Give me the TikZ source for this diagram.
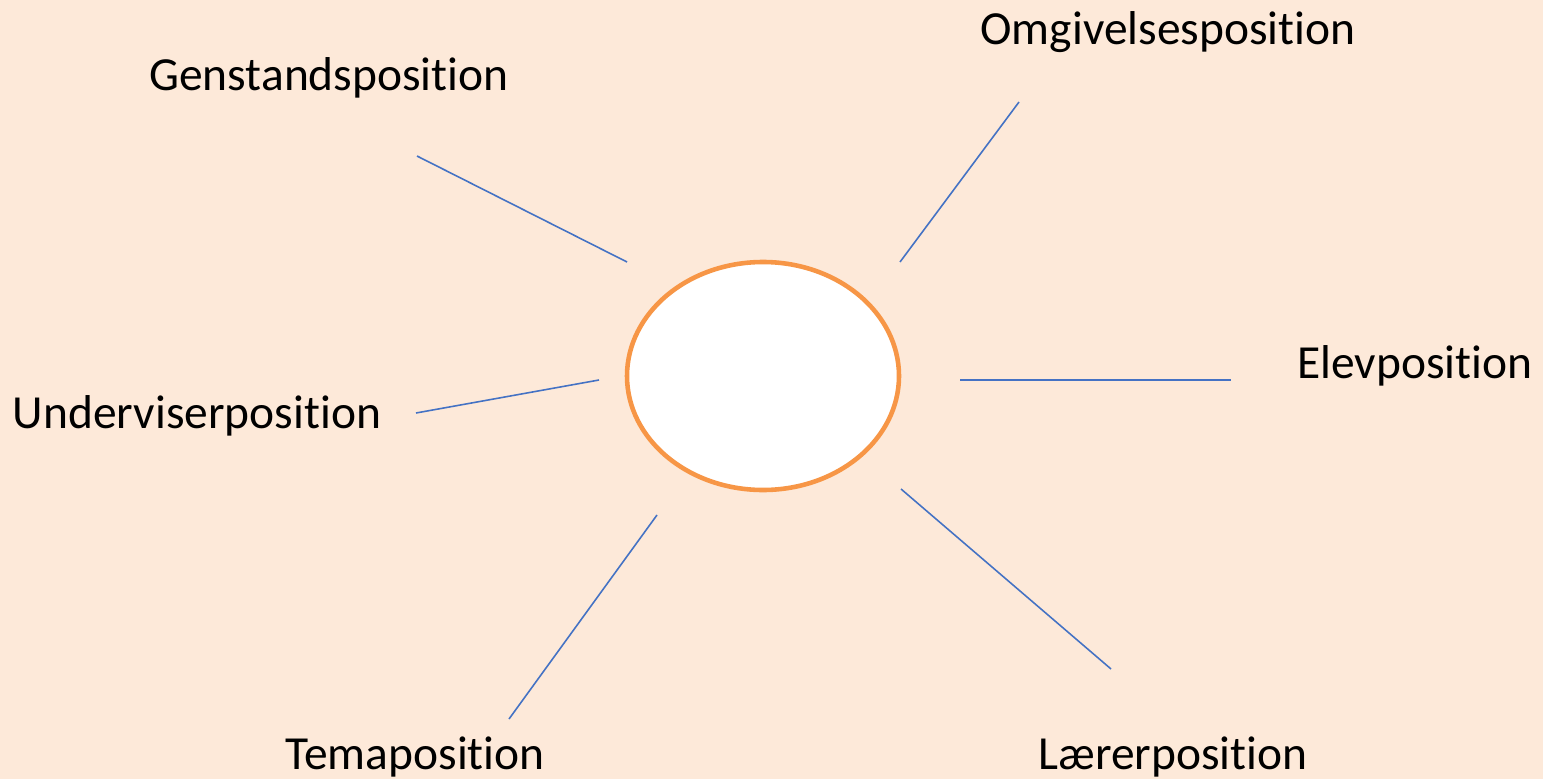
\documentclass[tikz,border=0pt]{standalone}
\usepackage{fontspec}
\setmainfont{Carlito}[RawFeature={-liga;-clig;-dlig}]
\newcommand\noligti{t\kern0pt i}
\definecolor{bgpeach}{HTML}{FDE9D9}
\definecolor{ringorange}{HTML}{F79646}
\definecolor{lineblue}{HTML}{4472C4}
\begin{document}
\begin{tikzpicture}[x=0.01cm,y=-0.01cm,
  lbl/.style={font=\fontsize{13.5pt}{16pt}\selectfont, text=black, inner sep=0pt},
  ray/.style={draw=lineblue, line width=0.45pt},
  ring/.style={draw=ringorange, fill=white, line width=1.3pt}]
\fill[bgpeach] (0,0) rectangle (1543,779);
\useasboundingbox (0,0) rectangle (1543,779);
\draw[ring] (763,376) ellipse [x radius=136, y radius=114];
\node[lbl] (gen) at (329,78) {Genstandsposi\noligti on};
\node[lbl] (omg) at (1168,32) {Omgivelsesposi\noligti on};
\node[lbl] (elev) at (1415,366) {Elevposi\noligti on};
\node[lbl] (und) at (197,416) {Underviserposi\noligti on};
\node[lbl] (tema) at (415,757) {Temaposi\noligti on};
\node[lbl] (laer) at (1173,757) {Lærerposi\noligti on};
\coordinate (g1) at (417,156); \coordinate (g2) at (627,262);
\coordinate (o1) at (1019,102); \coordinate (o2) at (900,262);
\coordinate (e1) at (960,380); \coordinate (e2) at (1231,380);
\coordinate (u1) at (416,413); \coordinate (u2) at (599,380);
\coordinate (t1) at (657,515); \coordinate (t2) at (509,719);
\coordinate (l1) at (901,489); \coordinate (l2) at (1111,669);
\draw[ray] (g1) -- (g2);
\draw[ray] (o1) -- (o2);
\draw[ray] (e1) -- (e2);
\draw[ray] (u1) -- (u2);
\draw[ray] (t1) -- (t2);
\draw[ray] (l1) -- (l2);
\end{tikzpicture}
\end{document}
